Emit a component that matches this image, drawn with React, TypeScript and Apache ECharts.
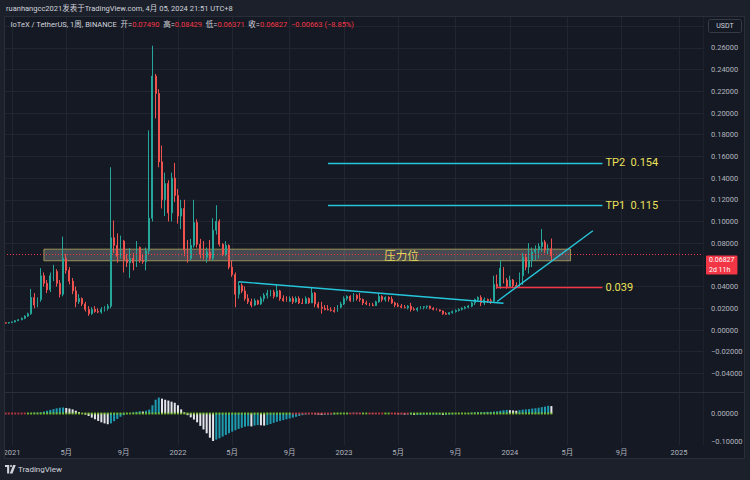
import React, { useEffect, useRef } from "react";
import * as echarts from "echarts";

// ---------- data ----------
const START_UTC = Date.UTC(2020, 11, 21); // first visible weekly bar (Monday)
const TOTAL_WEEKS = 219; // visible time range incl. future space

const openP = [
  0.0066, 0.0064, 0.0068, 0.0074, 0.0086, 0.0095, 0.0108, 0.0128, 0.015, 0.03,
  0.023, 0.028, 0.05, 0.043, 0.037, 0.05, 0.054, 0.043, 0.033, 0.066,
  0.055, 0.045, 0.036, 0.026, 0.029, 0.024, 0.019, 0.015, 0.019, 0.017,
  0.0165, 0.019, 0.02, 0.022, 0.085, 0.078, 0.068, 0.082, 0.065, 0.062,
  0.066, 0.062, 0.076, 0.064, 0.063, 0.073, 0.103, 0.234, 0.218, 0.155,
  0.12, 0.135, 0.108, 0.14, 0.124, 0.105, 0.112, 0.074, 0.066, 0.078,
  0.099, 0.079, 0.07, 0.067, 0.072, 0.066, 0.092, 0.1, 0.079, 0.07,
  0.078, 0.058, 0.051, 0.033, 0.041, 0.036, 0.029, 0.026, 0.023, 0.027,
  0.024, 0.029, 0.032, 0.034, 0.035, 0.031, 0.036, 0.029, 0.027, 0.0265,
  0.029, 0.026, 0.029, 0.025, 0.0245, 0.029, 0.025, 0.034, 0.024, 0.021,
  0.02, 0.019, 0.0185, 0.018, 0.017, 0.021, 0.024, 0.029, 0.031, 0.027,
  0.032, 0.029, 0.028, 0.025, 0.024, 0.023, 0.0225, 0.026, 0.031, 0.028,
  0.03, 0.0285, 0.025, 0.023, 0.022, 0.021, 0.0205, 0.022, 0.019, 0.0185,
  0.02, 0.021, 0.0215, 0.022, 0.02, 0.019, 0.0185, 0.0175, 0.015, 0.0145,
  0.016, 0.017, 0.018, 0.019, 0.02, 0.021, 0.022, 0.025, 0.028, 0.03,
  0.025, 0.028, 0.027, 0.0265, 0.042, 0.04, 0.057, 0.046, 0.04, 0.046,
  0.041, 0.04, 0.05, 0.067, 0.058, 0.064, 0.072, 0.074, 0.077, 0.081,
  0.074, 0.0749,
];
const highP = [
  0.007, 0.0072, 0.0078, 0.009, 0.01, 0.0115, 0.0135, 0.016, 0.0378, 0.034,
  0.03, 0.057, 0.053, 0.046, 0.053, 0.06, 0.056, 0.046, 0.086, 0.07,
  0.058, 0.048, 0.04, 0.033, 0.03, 0.026, 0.022, 0.021, 0.022, 0.02,
  0.021, 0.022, 0.024, 0.15, 0.101, 0.089, 0.087, 0.083, 0.07, 0.0755,
  0.071, 0.082, 0.077, 0.07, 0.076, 0.184, 0.262, 0.236, 0.222, 0.17,
  0.145, 0.138, 0.145, 0.154, 0.13, 0.12, 0.12, 0.083, 0.084, 0.12,
  0.102, 0.084, 0.082, 0.076, 0.083, 0.103, 0.115, 0.102, 0.08, 0.082,
  0.079, 0.064, 0.053, 0.0445, 0.043, 0.04, 0.033, 0.029, 0.029, 0.028,
  0.031, 0.034, 0.037, 0.037, 0.037, 0.0415, 0.037, 0.032, 0.031, 0.031,
  0.031, 0.031, 0.031, 0.029, 0.031, 0.03, 0.039, 0.035, 0.026, 0.026,
  0.023, 0.023, 0.021, 0.021, 0.023, 0.026, 0.031, 0.032, 0.032, 0.034,
  0.033, 0.034, 0.029, 0.027, 0.025, 0.025, 0.027, 0.034, 0.032, 0.031,
  0.031, 0.031, 0.026, 0.025, 0.024, 0.023, 0.023, 0.025, 0.021, 0.021,
  0.022, 0.022, 0.0225, 0.0225, 0.021, 0.02, 0.019, 0.018, 0.0165, 0.0165,
  0.018, 0.019, 0.02, 0.021, 0.022, 0.023, 0.026, 0.029, 0.031, 0.032,
  0.03, 0.029, 0.029, 0.05, 0.051, 0.0645, 0.058, 0.048, 0.05, 0.047,
  0.044, 0.053, 0.071, 0.07, 0.08, 0.076, 0.078, 0.08, 0.093, 0.083,
  0.079, 0.08429,
];
const lowP = [
  0.006, 0.006, 0.0065, 0.007, 0.0082, 0.009, 0.01, 0.012, 0.014, 0.02,
  0.021, 0.026, 0.04, 0.034, 0.035, 0.045, 0.04, 0.03, 0.031, 0.052,
  0.042, 0.033, 0.021, 0.024, 0.022, 0.017, 0.013, 0.014, 0.016, 0.0155,
  0.015, 0.017, 0.018, 0.02, 0.071, 0.062, 0.066, 0.053, 0.058, 0.048,
  0.055, 0.058, 0.062, 0.061, 0.055, 0.07, 0.1, 0.195, 0.15, 0.112,
  0.105, 0.1, 0.1, 0.118, 0.098, 0.093, 0.068, 0.062, 0.064, 0.076,
  0.076, 0.066, 0.065, 0.062, 0.064, 0.064, 0.088, 0.077, 0.068, 0.068,
  0.056, 0.049, 0.021, 0.029, 0.034, 0.027, 0.024, 0.021, 0.022, 0.023,
  0.023, 0.026, 0.029, 0.031, 0.029, 0.03, 0.027, 0.026, 0.026, 0.026,
  0.024, 0.025, 0.024, 0.024, 0.024, 0.024, 0.025, 0.021, 0.02, 0.015,
  0.018, 0.018, 0.017, 0.016, 0.017, 0.02, 0.023, 0.027, 0.026, 0.026,
  0.027, 0.026, 0.023, 0.023, 0.022, 0.022, 0.022, 0.025, 0.026, 0.026,
  0.026, 0.024, 0.021, 0.021, 0.02, 0.02, 0.019, 0.017, 0.018, 0.017,
  0.019, 0.019, 0.0195, 0.019, 0.018, 0.018, 0.017, 0.014, 0.014, 0.014,
  0.015, 0.016, 0.017, 0.018, 0.019, 0.02, 0.021, 0.023, 0.026, 0.022,
  0.023, 0.025, 0.024, 0.025, 0.038, 0.038, 0.043, 0.038, 0.039, 0.039,
  0.039, 0.039, 0.0415, 0.055, 0.052, 0.058, 0.064, 0.066, 0.072, 0.071,
  0.07, 0.06371,
];
const closeP = [
  0.0064, 0.0068, 0.0074, 0.0086, 0.0095, 0.0108, 0.0128, 0.015, 0.03, 0.023,
  0.028, 0.05, 0.043, 0.037, 0.05, 0.054, 0.043, 0.033, 0.066, 0.055,
  0.045, 0.036, 0.026, 0.029, 0.024, 0.019, 0.015, 0.019, 0.017, 0.0165,
  0.019, 0.02, 0.022, 0.085, 0.078, 0.068, 0.082, 0.065, 0.062, 0.066,
  0.062, 0.076, 0.064, 0.063, 0.073, 0.103, 0.234, 0.218, 0.155, 0.12,
  0.135, 0.108, 0.14, 0.124, 0.105, 0.112, 0.074, 0.066, 0.078, 0.099,
  0.079, 0.07, 0.067, 0.072, 0.066, 0.092, 0.1, 0.079, 0.07, 0.078,
  0.058, 0.051, 0.033, 0.041, 0.036, 0.029, 0.026, 0.023, 0.027, 0.024,
  0.029, 0.032, 0.034, 0.035, 0.031, 0.036, 0.029, 0.027, 0.0265, 0.029,
  0.026, 0.029, 0.025, 0.0245, 0.029, 0.025, 0.034, 0.024, 0.021, 0.02,
  0.019, 0.0185, 0.018, 0.017, 0.021, 0.024, 0.029, 0.031, 0.027, 0.032,
  0.029, 0.028, 0.025, 0.024, 0.023, 0.0225, 0.026, 0.031, 0.028, 0.03,
  0.0285, 0.025, 0.023, 0.022, 0.021, 0.0205, 0.022, 0.019, 0.0185, 0.02,
  0.021, 0.0215, 0.022, 0.02, 0.019, 0.0185, 0.0175, 0.015, 0.0145, 0.016,
  0.017, 0.018, 0.019, 0.02, 0.021, 0.022, 0.025, 0.028, 0.03, 0.025,
  0.028, 0.027, 0.0265, 0.042, 0.04, 0.057, 0.046, 0.04, 0.046, 0.041,
  0.04, 0.05, 0.067, 0.058, 0.064, 0.072, 0.074, 0.077, 0.081, 0.074,
  0.0749, 0.06827,
];
// momentum histogram (lower pane)
const histVals = [
  -0.001, -0.001, -0.001, -0.0005, 0, 0.0005, 0.001, 0.001,
  0.002, 0.003, 0.003, 0.004,
  0.007, 0.01, 0.013, 0.016, 0.019, 0.021,
  0.022, 0.02, 0.018, 0.015, 0.01, 0.005, 0.001,
  -0.004, -0.009, -0.015, -0.021, -0.027, -0.032, -0.036, -0.039,
  -0.036, -0.028, -0.02, -0.012, -0.006, -0.002, 0.001,
  0.004, 0.006, 0.008, 0.007, 0.01, 0.014,
  0.03, 0.05, 0.058,
  0.054, 0.05, 0.047, 0.043, 0.039, 0.03, 0.015, 0.004,
  -0.006, -0.014, -0.022, -0.032, -0.045, -0.058, -0.072, -0.088, -0.1,
  -0.095, -0.09, -0.084, -0.078, -0.072, -0.066, -0.061, -0.056, -0.052, -0.048, -0.046, -0.047,
  -0.044, -0.042, -0.043, -0.044, -0.042, -0.038, -0.034, -0.03, -0.027, -0.024, -0.021, -0.018, -0.015, -0.012, -0.009, -0.006,
  -0.004, -0.003, -0.002, -0.003, -0.004, -0.005, -0.005, -0.005, -0.004, -0.003, -0.002, -0.001, 0.001, 0.002, 0.002, 0.003, 0.003,
  0.002, 0.001, 0, -0.001, -0.002, -0.002, -0.001, 0, 0.001, 0, -0.001, -0.002, -0.003, -0.003, -0.004, -0.004, -0.004,
  -0.005, -0.005, -0.005, -0.004, -0.004, -0.004, -0.004, -0.004, -0.004, -0.005, -0.005, -0.004, -0.003, -0.002, -0.001,
  0, 0.001, 0.002, 0.003, 0.004, 0.005, 0.005, 0.005, 0.006, 0.006, 0.007, 0.008,
  0.01, 0.012, 0.013, 0.012, 0.011, 0.01, 0.012, 0.014, 0.015, 0.016, 0.018, 0.019, 0.021, 0.023, 0.025, 0.028, 0.027,
];
// weeks whose zero-line dot is red (index ranges, inclusive)
const squeezeRedRanges = [[0, 6], [90, 102], [108, 111], [114, 118], [121, 126]];

const priceTicks = [-0.04, -0.02, 0, 0.02, 0.04, 0.06, 0.08, 0.1, 0.12, 0.14, 0.16, 0.18, 0.2, 0.22, 0.24, 0.26, 0.28];
// 0.06 label is hidden behind the last-price tag, 0.28 behind the currency box
const priceLabels = [-0.04, -0.02, 0, 0.02, 0.04, 0.08, 0.1, 0.12, 0.14, 0.16, 0.18, 0.2, 0.22, 0.24, 0.26];
const histTicks = [-0.1, 0];

const lastPrice = 0.06827;
const lastPriceLabelAnchor = 0.0641;
const countdown = "2d 11h";
const resistanceZone = { from: "2021-03-15", to: "2024-05-13", top: 0.0745, bottom: 0.0638, labelAt: "2023-05-08", text: "压力位" };
const targetLines = [
  { name: "TP2", value: 0.154, from: "2022-11-28", to: "2024-07-22" },
  { name: "TP1", value: 0.115, from: "2022-11-28", to: "2024-07-22" },
];
const supportLine = { value: 0.039, from: "2023-12-04", to: "2024-07-22" };
const trendDown = [["2022-05-16", 0.0445], ["2023-12-18", 0.0247]];
const trendUp = [["2023-12-04", 0.0263], ["2024-07-01", 0.0915]];

// ---------- helpers ----------
const WEEK_MS = 7 * 86400000;
const categories: string[] = Array.from({ length: TOTAL_WEEKS }, (_, i) =>
  new Date(START_UTC + i * WEEK_MS).toISOString().slice(0, 10)
);
const labelIdx = new Set<number>();
categories.forEach((c, i) => {
  if (i === 0) return;
  const m = +c.slice(5, 7);
  const pm = +categories[i - 1].slice(5, 7);
  if (m !== pm && (m === 1 || m === 5 || m === 9)) labelIdx.add(i);
});
const fmtTime = (v: string) => {
  const m = +v.slice(5, 7);
  return m === 1 ? v.slice(0, 4) : `${m}月`;
};
const fmtPrice = (v: number) => (v < -1e-9 ? "\u2212" : "") + Math.abs(v).toFixed(5);

const UP = "#26a69a";
const DOWN = "#ef5350";
const CYAN = "#26c6da";
const YELLOW = "#ebe05a";
const GRID = "#21252f";
const AXIS_TXT = "#b2b5be";
const FONT = 'Roboto, "Noto Sans CJK SC", sans-serif';

function buildOption() {
  const candleData = openP.map((o, i) => [o, closeP[i], lowP[i], highP[i]]);
  const histData = histVals.map((v, i) => ({
    value: v,
    itemStyle: { color: i > 0 && v < histVals[i - 1] ? "#e3e5ea" : "#1f9bb0" },
  }));
  const isRed = (i: number) => squeezeRedRanges.some(([a, b]) => i >= a && i <= b);
  const dotData = histVals.map((_, i) => ({
    value: 0,
    itemStyle: { color: isRed(i) ? "#d9363e" : "#86d62b" },
  }));

  const lineLabel = (text: string) => ({
    show: true,
    position: "end",
    formatter: text,
    color: YELLOW,
    fontSize: 11,
    fontFamily: FONT,
    distance: 3,
  });

  const xAxisBase = {
    type: "category",
    data: categories,
    boundaryGap: true,
    axisLine: { show: false },
    axisTick: { show: false, alignWithLabel: true },
    splitLine: {
      show: true,
      alignWithLabel: true,
      interval: (i: number) => labelIdx.has(i),
      lineStyle: { color: GRID, width: 1 },
    },
  };

  return {
    animation: false,
    backgroundColor: "#151924",
    textStyle: { fontFamily: FONT },
    grid: [
      { left: 4, width: 699, top: 17, height: 375 },
      { left: 4, width: 699, top: 393, height: 52 },
    ],
    xAxis: [
      { ...xAxisBase, gridIndex: 0, axisLabel: { show: false } },
      {
        ...xAxisBase,
        gridIndex: 1,
        axisLabel: {
          show: true,
          interval: (i: number) => labelIdx.has(i),
          formatter: fmtTime,
          color: AXIS_TXT,
          fontSize: 7.5,
          margin: 4,
        },
      },
    ],
    yAxis: [
      {
        type: "value",
        gridIndex: 0,
        position: "right",
        min: -0.05714,
        max: 0.28848,
        axisLine: { show: false },
        axisTick: { show: false, customValues: priceTicks },
        axisLabel: {
          customValues: priceLabels,
          formatter: fmtPrice,
          color: AXIS_TXT,
          fontSize: 7.5,
          margin: 8,
        },
        splitLine: { show: true, lineStyle: { color: GRID, width: 1 } },
      },
      {
        type: "value",
        gridIndex: 1,
        position: "right",
        min: -0.1145,
        max: 0.0745,
        axisLine: { show: false },
        axisTick: { show: false, customValues: histTicks },
        axisLabel: {
          customValues: histTicks,
          formatter: fmtPrice,
          color: AXIS_TXT,
          fontSize: 7.5,
          margin: 8,
        },
        splitLine: { show: false },
      },
    ],
    series: [
      {
        type: "candlestick",
        xAxisIndex: 0,
        yAxisIndex: 0,
        data: candleData,
        barWidth: 1.4,
        itemStyle: { color: UP, color0: DOWN, borderColor: UP, borderColor0: DOWN, borderWidth: 1 },
        markArea: {
          silent: true,
          itemStyle: { color: "rgba(175,175,175,0.33)", borderColor: "rgba(200,188,100,0.7)", borderWidth: 1 },
          label: { show: false },
          data: [[
            { coord: [resistanceZone.from, resistanceZone.top] },
            { coord: [resistanceZone.to, resistanceZone.bottom] },
          ]],
        },
        markPoint: {
          silent: true,
          symbol: "rect",
          symbolSize: 1,
          itemStyle: { color: "rgba(0,0,0,0)" },
          label: {
            show: true,
            position: "inside",
            formatter: resistanceZone.text,
            color: "#e2d65a",
            fontSize: 11.5,
            fontFamily: '"Noto Sans CJK SC", sans-serif',
          },
          data: [{ coord: [resistanceZone.labelAt, (resistanceZone.top + resistanceZone.bottom) / 2] }],
        },
        markLine: {
          silent: true,
          symbol: ["none", "none"],
          label: { show: false },
          data: [
            {
              yAxis: lastPrice,
              lineStyle: { color: "#f23645", type: [1, 2], width: 1 },
              label: { show: false },
            },
            {
              yAxis: lastPriceLabelAnchor,
              lineStyle: { color: "rgba(0,0,0,0)", width: 0 },
              label: {
                show: true,
                position: "end",
                distance: 3,
                formatter: `{a|${lastPrice.toFixed(5)}}\n{a|${countdown}}`,
                backgroundColor: "#f23645",
                padding: [0, 3, 0, 3],
                borderRadius: 1,
                rich: { a: { color: "#ffffff", fontSize: 7, lineHeight: 9.5, fontFamily: FONT } },
              },
            },
            ...targetLines.map((t) => [
              {
                coord: [t.from, t.value],
                lineStyle: { color: CYAN, width: 1.4, type: "solid" },
                label: lineLabel(`${t.name}\u00a0\u00a0${t.value.toFixed(3)}`),
              },
              { coord: [t.to, t.value] },
            ]),
            [
              {
                coord: [supportLine.from, supportLine.value],
                lineStyle: { color: "#f23645", width: 1.4, type: "solid" },
                label: lineLabel(supportLine.value.toFixed(3)),
              },
              { coord: [supportLine.to, supportLine.value] },
            ],
            [
              { coord: trendDown[0], lineStyle: { color: CYAN, width: 1.4, type: "solid" }, label: { show: false } },
              { coord: trendDown[1] },
            ],
            [
              { coord: trendUp[0], lineStyle: { color: CYAN, width: 1.4, type: "solid" }, label: { show: false } },
              { coord: trendUp[1] },
            ],
          ],
        },
      },
      {
        type: "bar",
        xAxisIndex: 1,
        yAxisIndex: 1,
        data: histData,
        barWidth: 2,
      },
      {
        type: "scatter",
        xAxisIndex: 1,
        yAxisIndex: 1,
        data: dotData,
        symbol: "rect",
        symbolSize: [2, 2],
        z: 5,
      },
    ],
    graphic: [
      // outer frame areas
      { type: "rect", shape: { x: 0, y: 0, width: 750, height: 16 }, style: { fill: "#1c202b" }, z: 10, silent: true },
      { type: "rect", shape: { x: 0, y: 459, width: 750, height: 21 }, style: { fill: "#1c202b" }, z: 10, silent: true },
      { type: "rect", shape: { x: 0, y: 0, width: 4, height: 480 }, style: { fill: "#1c202b" }, z: 10, silent: true },
      { type: "rect", shape: { x: 745, y: 0, width: 5, height: 480 }, style: { fill: "#1c202b" }, z: 10, silent: true },
      { type: "rect", shape: { x: 4.5, y: 16.5, width: 740, height: 442 }, style: { fill: "none", stroke: "#2a2e39", lineWidth: 1 }, z: 11, silent: true },
      { type: "line", shape: { x1: 4, y1: 392.5, x2: 745, y2: 392.5 }, style: { stroke: "#2a2e39", lineWidth: 1 }, z: 11, silent: true },
      { type: "line", shape: { x1: 703.5, y1: 17, x2: 703.5, y2: 446 }, style: { stroke: "#1d212b", lineWidth: 1 }, z: 1, silent: true },
      // header
      {
        type: "text",
        x: 6,
        y: 8,
        z: 12,
        style: {
          text: "ruanhangcc2021发表于TradingView.com, 4月 05, 2024 21:51 UTC+8",
          fill: "#d1d4dc",
          fontSize: 7.5,
          fontFamily: FONT,
          verticalAlign: "middle",
        },
      },
      {
        type: "text",
        x: 10.5,
        y: 24.5,
        z: 12,
        style: {
          text:
            "{w|IoTeX / TetherUS, 1周, BINANCE  开=}{r|0.07490}{w|  高=}{r|0.08429}{w|  低=}{r|0.06371}{w|  收=}{r|0.06827}{r|  \u22120.00663 (\u22128.85%)}",
          verticalAlign: "middle",
          fontSize: 7.5,
          fontFamily: FONT,
          rich: {
            w: { fill: "#d1d4dc", fontSize: 7.5, fontFamily: FONT },
            r: { fill: "#f23645", fontSize: 7.5, fontFamily: FONT },
          },
        },
      },
      // currency box
      { type: "rect", shape: { x: 708.5, y: 19.5, width: 33, height: 13, r: 2 }, style: { fill: "#151924", stroke: "#363a45", lineWidth: 1 }, z: 12, silent: true },
      {
        type: "text",
        x: 725,
        y: 26,
        z: 13,
        style: { text: "USDT", fill: "#d1d4dc", fontSize: 7, fontFamily: FONT, align: "center", verticalAlign: "middle" },
      },
      // footer logo
      { type: "tvlogo", x: 5, y: 465, scaleX: 0.3, scaleY: 0.3, z: 12, style: { fill: "#d1d4dc" } },
      {
        type: "text",
        x: 18,
        y: 469,
        z: 12,
        style: { text: "TradingView", fill: "#d1d4dc", fontSize: 8, fontFamily: FONT, verticalAlign: "middle" },
      },
    ],
  };
}

let registered = false;
function registerLogo() {
  if (registered) return;
  registered = true;
  const d =
    "M0 0H14V28H7V7H0Z M16.5 3.5A3.5 3.5 0 1 0 23.5 3.5A3.5 3.5 0 1 0 16.5 3.5Z M27 0H36L25 28H16Z";
  echarts.graphic.registerShape("tvlogo", echarts.graphic.extendPath(d, {}) as any);
}

export default function App() {
  const ref = useRef<HTMLDivElement>(null);
  useEffect(() => {
    if (!ref.current) return;
    registerLogo();
    const chart = echarts.init(ref.current, undefined, { renderer: "svg" });
    chart.setOption(buildOption() as any);
    return () => chart.dispose();
  }, []);
  return (
    <div
      ref={ref}
      style={{ position: "absolute", left: 0, top: 0, width: 750, height: 480, background: "#151924" }}
    />
  );
}
